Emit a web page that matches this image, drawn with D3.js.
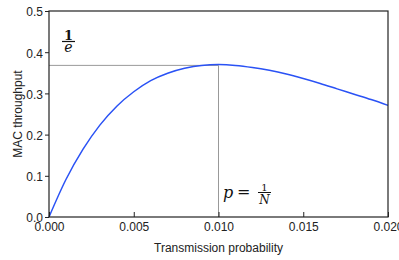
<!DOCTYPE html>
<html>
<head>
<meta charset="utf-8">
<script src="https://cdn.jsdelivr.net/npm/d3@7"></script>
<style>
	body { margin: 0; background: #fff; }
	svg { display: block; font-family: "Liberation Sans", Arial, sans-serif; }
	.tick text { font-size: 12px; fill: #222; }
	.math { font-family: "DejaVu Serif", "Liberation Serif", serif; fill: #111; }
</style>
</head>
<body>
<div id="chart"></div>
<script>
	// values
	var probability = [0, 0.001, 0.002, 0.003, 0.004, 0.005, 0.006, 0.007, 0.008, 0.009, 0.010,
		0.011, 0.012, 0.013, 0.014, 0.015, 0.016, 0.017, 0.018, 0.019, 0.020];
	var throughput = [0, 0.091, 0.164, 0.223, 0.269, 0.304, 0.331, 0.349, 0.361, 0.368, 0.370,
		0.368, 0.363, 0.356, 0.347, 0.336, 0.324, 0.311, 0.298, 0.285, 0.271];
	var xTicks = [0, 0.005, 0.010, 0.015, 0.020];
	var yTicks = [0, 0.1, 0.2, 0.3, 0.4, 0.5];
	var peak = { p: 0.010, s: 0.368 };

	var width = 399, height = 260;
	var margin = { left: 49, right: 11, top: 11, bottom: 43 };

	var svg = d3.select('#chart')
		.append('svg')
		.attr('width', width)
		.attr('height', height);

	var x = d3.scaleLinear()
		.domain([0, 0.02])
		.range([margin.left, width - margin.right]);
	var y = d3.scaleLinear()
		.domain([0, 0.5])
		.range([height - margin.bottom, margin.top]);

	// guide lines to the maximum
	svg.append('line')
		.attr('x1', x(0)).attr('x2', x(peak.p))
		.attr('y1', y(peak.s)).attr('y2', y(peak.s))
		.attr('stroke', '#999').attr('stroke-width', 1);
	svg.append('line')
		.attr('x1', x(peak.p)).attr('x2', x(peak.p))
		.attr('y1', y(peak.s)).attr('y2', y(0))
		.attr('stroke', '#999').attr('stroke-width', 1);

	// curve
	var points = probability.map(function(p, i) { return [p, throughput[i]]; });
	svg.append('path')
		.datum(points)
		.attr('fill', 'none')
		.attr('stroke', '#2a52f5')
		.attr('stroke-width', 1.5)
		.attr('d', d3.line()
			.x(function(d) { return x(d[0]); })
			.y(function(d) { return y(d[1]); })
			.curve(d3.curveMonotoneX));

	// frame
	svg.append('rect')
		.attr('x', x(0)).attr('y', y(0.5))
		.attr('width', x(0.02) - x(0))
		.attr('height', y(0) - y(0.5))
		.attr('fill', 'none')
		.attr('stroke', '#222')
		.attr('stroke-width', 1.2);

	// axes
	var xAxis = svg.append('g')
		.attr('transform', 'translate(0,' + y(0) + ')')
		.call(d3.axisBottom(x)
			.tickValues(xTicks)
			.tickFormat(d3.format('.3f'))
			.tickSizeInner(-5)
			.tickSizeOuter(0)
			.tickPadding(5));
	xAxis.select('.domain').remove();
	xAxis.selectAll('.tick line').attr('stroke', '#222');

	var yAxis = svg.append('g')
		.attr('transform', 'translate(' + x(0) + ',0)')
		.call(d3.axisLeft(y)
			.tickValues(yTicks)
			.tickFormat(d3.format('.1f'))
			.tickSizeInner(4)
			.tickSizeOuter(0)
			.tickPadding(2));
	yAxis.select('.domain').remove();
	yAxis.selectAll('.tick line').attr('stroke', '#222');
	yAxis.selectAll('.tick text').attr('dy', '0.4em');

	// axis titles
	svg.append('text')
		.attr('x', (x(0) + x(0.02)) / 2)
		.attr('y', 252)
		.attr('text-anchor', 'middle')
		.attr('font-size', 12)
		.attr('fill', '#222')
		.text('Transmission probability');
	svg.append('text')
		.attr('transform', 'translate(22,' + ((y(0) + y(0.5)) / 2) + ') rotate(-90)')
		.attr('text-anchor', 'middle')
		.attr('font-size', 12)
		.attr('fill', '#222')
		.text('MAC throughput');

	// 1/e label
	var ex = 68.5;
	svg.append('text').attr('class', 'math')
		.attr('x', ex).attr('y', 39.5).attr('text-anchor', 'middle')
		.attr('font-size', 13).attr('font-weight', 'bold')
		.text('1');
	svg.append('line')
		.attr('x1', ex - 6.5).attr('x2', ex + 6.5)
		.attr('y1', 41.5).attr('y2', 41.5)
		.attr('stroke', '#111').attr('stroke-width', 1.2);
	svg.append('text').attr('class', 'math')
		.attr('x', ex).attr('y', 52).attr('text-anchor', 'middle')
		.attr('font-size', 14).attr('font-style', 'italic')
		.text('e');

	// p = 1/N label
	svg.append('text').attr('class', 'math')
		.attr('x', 223).attr('y', 198)
		.attr('font-size', 16).attr('font-style', 'italic')
		.text('p');
	svg.append('text').attr('class', 'math')
		.attr('x', 237).attr('y', 197)
		.attr('font-size', 16)
		.text('=');
	var nx = 264.5;
	svg.append('text').attr('class', 'math')
		.attr('x', nx).attr('y', 190.5).attr('text-anchor', 'middle')
		.attr('font-size', 10)
		.text('1');
	svg.append('line')
		.attr('x1', nx - 6.5).attr('x2', nx + 6.5)
		.attr('y1', 192.5).attr('y2', 192.5)
		.attr('stroke', '#111').attr('stroke-width', 1);
	svg.append('text').attr('class', 'math')
		.attr('x', nx).attr('y', 204).attr('text-anchor', 'middle')
		.attr('font-size', 12).attr('font-style', 'italic')
		.text('N');
</script>
</body>
</html>
